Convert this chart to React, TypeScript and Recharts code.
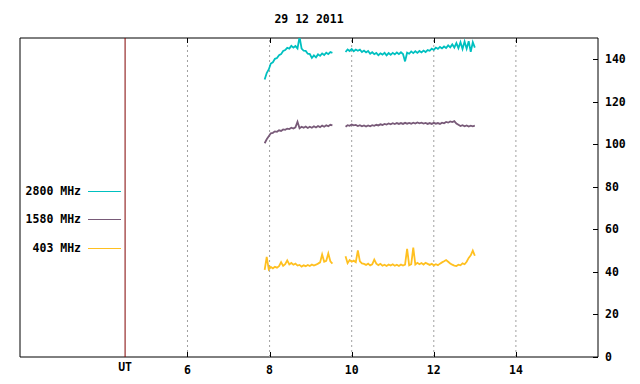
import { LineChart, Line, XAxis, YAxis, ReferenceLine, ReferenceArea } from "recharts";

// Radio flux, 29 12 2011. Two recording windows, one sample every 0.05 h.
const TITLE = "29 12 2011";
const STEP = 0.05;
const SEG1_START = 7.88;
const SEG2_START = 9.85;

const C2800_A = [
  130.5, 133.5, 135.2, 138.0, 138.6, 140.2, 140.6, 141.9, 142.4, 143.9, 144.3, 145.4, 145.0, 146.3, 145.5, 146.2, 145.1,
  150.5, 145.0, 144.0, 143.9, 142.6, 142.4, 140.6, 141.8, 140.9, 142.3, 141.6, 142.7, 142.0, 143.1, 142.4, 143.4, 143.0,
];
const C2800_B = [
  143.4, 144.6, 143.9, 144.8, 143.8, 144.6, 144.0, 144.5, 143.4, 144.1, 143.2, 143.9, 142.6, 143.3, 142.4, 143.0,
  141.9, 142.8, 142.2, 143.0, 141.8, 142.9, 142.1, 143.0, 142.3, 143.2, 142.4, 143.3, 142.5, 139.0, 143.1, 142.6,
  143.7, 142.9, 143.8, 143.0, 143.9, 143.2, 144.1, 143.4, 144.3, 144.0, 145.0, 144.4, 145.5, 144.9, 145.8, 145.1,
  146.0, 145.3, 146.5, 145.6, 147.0, 145.5, 147.6, 145.2, 148.0, 144.8, 148.3, 145.0, 148.5, 143.5, 148.0, 145.5,
];
const C1580_A = [
  100.5, 102.4, 103.8, 105.2, 105.4, 106.1, 105.9, 106.6, 106.3, 107.0, 106.8, 107.4, 107.2, 107.8, 107.4, 108.0, 110.6,
  107.6, 108.3, 107.8, 108.4, 107.7, 108.3, 107.8, 108.5, 107.9, 108.6, 108.1, 108.8, 108.3, 109.0, 108.5, 109.2, 108.9,
];
const C1580_B = [
  108.3, 109.0, 108.7, 109.3, 108.9, 109.1, 108.6, 109.0, 108.5, 108.9, 108.4, 108.9, 108.5, 109.0, 108.7, 109.2,
  108.9, 109.4, 109.1, 109.6, 109.3, 109.8, 109.4, 109.9, 109.5, 110.0, 109.6, 110.0, 109.6, 110.1, 109.7, 110.1,
  109.7, 110.2, 109.8, 110.3, 109.9, 110.2, 109.8, 110.1, 109.6, 110.0, 109.6, 110.1, 109.7, 110.0, 109.6, 110.2,
  109.9, 110.5, 110.2, 110.8, 110.5, 110.9, 109.8, 109.2, 108.6, 109.0, 108.5, 108.9, 108.4, 108.8, 108.5, 108.8,
];
const C403_A = [
  41.0, 47.1, 41.2, 42.3, 41.7, 42.4, 42.0, 42.7, 44.6, 42.8, 43.6, 45.4, 43.5, 44.2, 43.4, 43.9, 43.0,
  43.3, 42.5, 43.1, 42.7, 43.3, 42.8, 43.5, 43.0, 43.4, 43.9, 44.5, 48.2, 44.8, 45.2, 48.7, 45.0, 43.9,
];
const C403_B = [
  47.4, 44.1, 45.6, 44.8, 45.3, 44.6, 50.1, 45.0, 44.0, 43.8, 43.3, 43.9, 43.1, 43.6, 45.8, 43.9,
  43.2, 43.8, 42.9, 43.4, 42.8, 43.5, 43.0, 43.6, 42.9, 43.4, 42.8, 43.5, 43.0, 43.4, 50.9, 43.1,
  43.6, 51.4, 43.5, 44.3, 43.6, 44.2, 43.5, 44.3, 43.8, 43.3, 43.8, 43.1, 43.6, 43.2, 43.9, 44.5,
  45.0, 45.6, 44.8, 44.0, 43.4, 43.0, 42.8, 43.4, 43.1, 44.0, 43.6, 44.8, 46.6, 47.8, 50.0, 47.6,
];

const X_DOMAIN = [1.92, 16];
const UT_MARK = 4.48;
const GRID_HOURS = [6, 8, 10, 12, 14];
const Y_TICKS = [0, 20, 40, 60, 80, 100, 120, 140];

const SERIES = [
  { key: "f2800", name: "2800 MHz", color: "#00c0c0" },
  { key: "f1580", name: "1580 MHz", color: "#785a78" },
  { key: "f403", name: "403 MHz", color: "#ffc020" },
];

const FONT = "'DejaVu Sans Mono', 'Liberation Mono', monospace";
const TEXT = { fill: "#000", fontSize: 11.5, fontWeight: "bold", fontFamily: FONT };

const rows: any[] = [];
C2800_A.forEach((_, i) => {
  rows.push({ t: +(SEG1_START + i * STEP).toFixed(2), f2800: C2800_A[i], f1580: C1580_A[i], f403: C403_A[i] });
});
rows.push({ t: 9.7, f2800: null, f1580: null, f403: null });
C2800_B.forEach((_, i) => {
  rows.push({ t: +(SEG2_START + i * STEP).toFixed(2), f2800: C2800_B[i], f1580: C1580_B[i], f403: C403_B[i] });
});

// ticks point inward like gnuplot's; x/y here sit on the plot border
function BottomTick(props: any) {
  const { x, y, payload } = props;
  if (payload.value === UT_MARK) {
    return <text x={x} y={y + 6} dy="0.71em" textAnchor="middle" {...TEXT}>UT</text>;
  }
  const px = Math.round(x) + 0.5;
  return (
    <g>
      <line x1={px} x2={px} y1={y - 5} y2={y} stroke="#000" />
      <text x={x} y={y + 9} dy="0.71em" textAnchor="middle" {...TEXT}>{payload.value}</text>
    </g>
  );
}

function TopTick(props: any) {
  const { x, y } = props;
  const px = Math.round(x) + 0.5;
  return <line x1={px} x2={px} y1={y} y2={y + 5} stroke="#000" />;
}

function RightTick(props: any) {
  const { x, y, payload } = props;
  const py = Math.round(y) + 0.5;
  return (
    <g>
      <line x1={x - 5} x2={x} y1={py} y2={py} stroke="#000" />
      <text x={x + 7} y={y} dy="0.35em" textAnchor="start" {...TEXT}>{payload.value}</text>
    </g>
  );
}

// gnuplot-style key on the left, kept out of the chart's layout
const KEY_ROWS_Y = [191, 219, 248];

function KeyBox() {
  return (
    <svg width={130} height={384} style={{ position: "absolute", left: 0, top: 0 }}>
      {SERIES.map((s, i) => (
        <g key={s.key}>
          <text x={81} y={KEY_ROWS_Y[i]} dy="0.35em" textAnchor="end" {...TEXT}>
            {s.name}
          </text>
          <line x1={88} x2={121} y1={KEY_ROWS_Y[i] + 0.5} y2={KEY_ROWS_Y[i] + 0.5} stroke={s.color} strokeWidth={1} />
        </g>
      ))}
    </svg>
  );
}

export default function App() {
  return (
    <div style={{ position: "absolute", left: 0, top: 0, width: 640, height: 384, background: "#fff" }}>
      <div
        style={{
          position: "absolute",
          top: 12,
          left: 20,
          width: 578,
          textAlign: "center",
          fontFamily: FONT,
          fontSize: 11.5,
          fontWeight: "bold",
        }}
      >
        {TITLE}
      </div>
      <LineChart width={640} height={384} data={rows} margin={{ top: 37, right: 0, bottom: 0, left: 20 }}>
        <XAxis
          dataKey="t"
          type="number"
          domain={X_DOMAIN}
          allowDataOverflow
          ticks={[UT_MARK, ...GRID_HOURS]}
          interval={0}
          axisLine={false}
          tickLine={false}
          tickSize={0}
          tickMargin={0}
          tick={<BottomTick />}
          height={27}
        />
        <XAxis
          xAxisId="top"
          orientation="top"
          dataKey="t"
          type="number"
          domain={X_DOMAIN}
          allowDataOverflow
          ticks={GRID_HOURS}
          interval={0}
          axisLine={false}
          tickLine={false}
          tickSize={0}
          tickMargin={0}
          tick={<TopTick />}
          height={1}
        />
        <YAxis
          orientation="right"
          domain={[0, 150]}
          ticks={Y_TICKS}
          interval={0}
          allowDataOverflow
          axisLine={false}
          tickLine={false}
          tickSize={0}
          tickMargin={0}
          tick={<RightTick />}
          width={42}
        />
        {GRID_HOURS.map((h) => (
          <ReferenceLine key={h} x={h} stroke="#a0a0a0" strokeDasharray="2 3" />
        ))}
        <ReferenceLine x={UT_MARK} stroke="#800000" />
        <ReferenceArea x1={X_DOMAIN[0]} x2={X_DOMAIN[1]} y1={0} y2={150} stroke="#000" strokeOpacity={1} fill="none" />
        {SERIES.map((s) => (
          <Line
            key={s.key}
            dataKey={s.key}
            name={s.name}
            stroke={s.color}
            strokeWidth={1.8}
            dot={false}
            type="linear"
            connectNulls={false}
            isAnimationActive={false}
          />
        ))}
      </LineChart>
      <KeyBox />
    </div>
  );
}
